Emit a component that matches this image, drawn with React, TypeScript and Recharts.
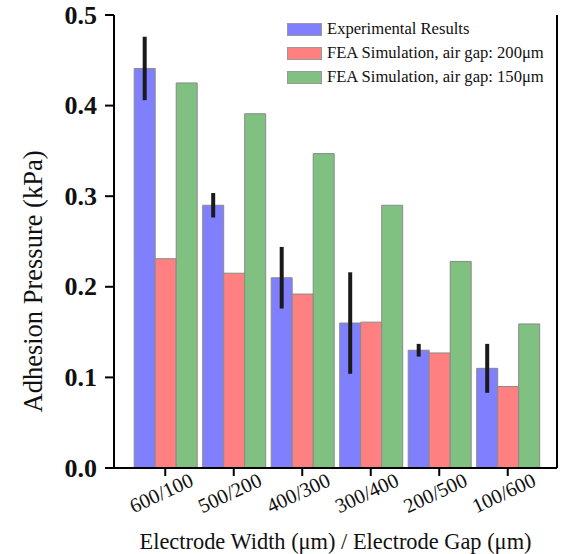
import React from "react";
import {
  BarChart,
  Bar,
  XAxis,
  YAxis,
  ErrorBar,
  Legend,
} from "recharts";

// Electrode width / gap combinations (µm)
const categories = ["600/100", "500/200", "400/300", "300/400", "200/500", "100/600"];
// Measured adhesion pressure (kPa) and its spread
const experimental = [0.441, 0.29, 0.21, 0.16, 0.13, 0.11];
const experimentalError = [0.035, 0.0135, 0.034, 0.056, 0.007, 0.027];
// FEA simulation results (kPa)
const feaGap200 = [0.231, 0.215, 0.192, 0.161, 0.127, 0.09];
const feaGap150 = [0.425, 0.391, 0.347, 0.29, 0.228, 0.159];
const yTicks = [0, 0.1, 0.2, 0.3, 0.4, 0.5];

const seriesNames = [
  "Experimental Results",
  "FEA Simulation, air gap: 200\u03bcm",
  "FEA Simulation, air gap: 150\u03bcm",
];
const seriesColors = ["#8080ff", "#ff8080", "#80c080"];

const data = categories.map((c, i) => ({
  name: c,
  exp: experimental[i],
  expErr: experimentalError[i],
  g200: feaGap200[i],
  g150: feaGap150[i],
}));

const FONT = '"Liberation Serif", serif';

const XTick = (props: any) => {
  const { x, y, payload } = props;
  const cx = x - 3;
  const cy = y + 17;
  return (
    <text
      x={cx}
      y={cy}
      transform={`rotate(-25, ${cx}, ${cy})`}
      textAnchor="middle"
      dominantBaseline="middle"
      fontFamily={FONT}
      style={{ fontFamily: FONT, fontSize: 20.5 }}
      fill="#111"
    >
      {payload.value}
    </text>
  );
};

const YTick = (props: any) => {
  const { x, y, payload } = props;
  return (
    <text
      x={x - 6}
      y={y}
      textAnchor="end"
      dominantBaseline="central"
      fontFamily={FONT}
      style={{ fontFamily: FONT, fontSize: 26, fontWeight: "bold" }}
      fill="#111"
    >
      {payload.value.toFixed(1)}
    </text>
  );
};

const YTitle = (props: any) => {
  const { viewBox } = props;
  const cx = viewBox.x + 33;
  const cy = viewBox.y + viewBox.height / 2 + 40;
  return (
    <text
      x={cx}
      y={cy}
      transform={`rotate(-90, ${cx}, ${cy})`}
      textAnchor="middle"
      dominantBaseline="central"
      fontFamily={FONT}
      style={{ fontFamily: FONT, fontSize: 26.5 }}
      fill="#111"
    >
      Adhesion Pressure (kPa)
    </text>
  );
};

const LegendBox = () => (
  <div style={{ fontFamily: FONT, fontSize: 16.6, color: "#111", lineHeight: "24px" }}>
    {seriesNames.map((n, i) => (
      <div key={n} style={{ display: "flex", alignItems: "center", height: 24 }}>
        <span
          style={{
            display: "inline-block",
            width: 33,
            height: 11,
            background: seriesColors[i],
            border: "1px solid #999",
            marginRight: 5,
          }}
        />
        <span>{n}</span>
      </div>
    ))}
  </div>
);

export default function App() {
  return (
    <div
      style={{
        position: "absolute",
        left: 0,
        top: 0,
        width: 563,
        height: 554,
        background: "#fff",
        fontFamily: FONT,
      }}
    >
      <BarChart
        width={563}
        height={554}
        data={data}
        margin={{ top: 15, right: 0, left: 0, bottom: 0 }}
        barCategoryGap={3.2}
        barGap={0}
        style={{ fontFamily: FONT }}
      >
        <XAxis
          dataKey="name"
          xAxisId="bottom"
          height={86}
          padding={{ left: 17, right: 15 }}
          axisLine={{ stroke: "#000", strokeWidth: 2 }}
          tickLine={{ stroke: "#000", strokeWidth: 2 }}
          tickSize={8}
          tick={<XTick />}
          interval={0}
          label={{
            value: "Electrode Width (\u03bcm) / Electrode Gap (\u03bcm)",
            position: "insideBottom",
            offset: 5,
            style: { fontFamily: FONT, fontSize: 22.4, fill: "#111" },
          }}
        />
        <XAxis
          dataKey="name"
          xAxisId="top"
          orientation="top"
          height={0}
          axisLine={{ stroke: "#000", strokeWidth: 2 }}
          tick={false}
          tickLine={false}
        />
        <YAxis
          yAxisId="left"
          width={114}
          domain={[0, 0.5]}
          ticks={yTicks}
          axisLine={{ stroke: "#000", strokeWidth: 2 }}
          tickLine={{ stroke: "#000", strokeWidth: 2 }}
          tickSize={9}
          tick={<YTick />}
          label={<YTitle />}
        />
        <YAxis
          yAxisId="right"
          orientation="right"
          width={6}
          domain={[0, 0.5]}
          axisLine={{ stroke: "#000", strokeWidth: 2 }}
          tick={false}
          tickLine={false}
        />
        <Legend
          layout="horizontal"
          verticalAlign="middle"
          align="center"
          content={<LegendBox />}
          wrapperStyle={{ position: "absolute", left: 287, top: 17, width: "auto", height: "auto" }}
        />
        <Bar
          dataKey="exp"
          name={seriesNames[0]}
          xAxisId="bottom"
          yAxisId="left"
          fill={seriesColors[0]}
          stroke="#8a8a8a"
          strokeWidth={1}
          isAnimationActive={false}
        >
          <ErrorBar dataKey="expErr" width={0} stroke="#1a1a1a" strokeWidth={4} direction="y" />
        </Bar>
        <Bar
          dataKey="g200"
          name={seriesNames[1]}
          xAxisId="bottom"
          yAxisId="left"
          fill={seriesColors[1]}
          stroke="#8a8a8a"
          strokeWidth={1}
          isAnimationActive={false}
        />
        <Bar
          dataKey="g150"
          name={seriesNames[2]}
          xAxisId="bottom"
          yAxisId="left"
          fill={seriesColors[2]}
          stroke="#8a8a8a"
          strokeWidth={1}
          isAnimationActive={false}
        />
      </BarChart>
    </div>
  );
}
